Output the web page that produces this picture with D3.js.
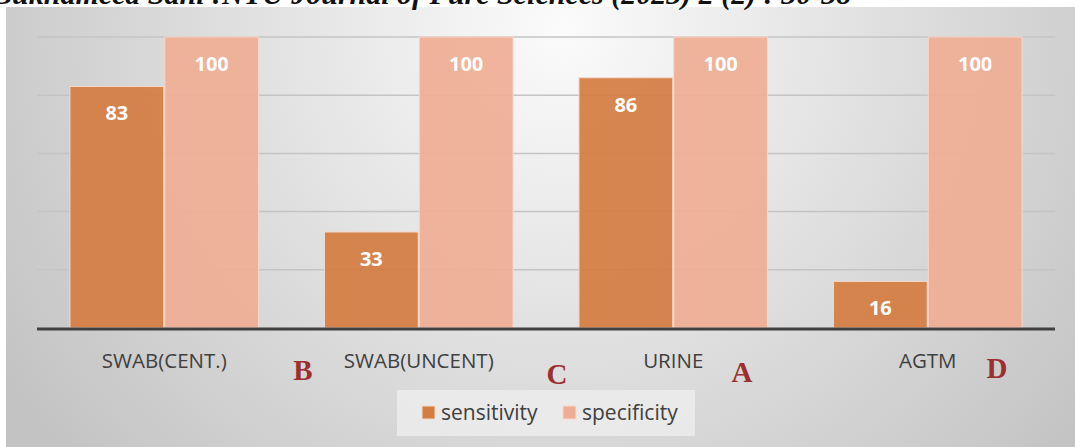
<!DOCTYPE html>
<html>
<head>
<meta charset="utf-8">
<script src="https://cdn.jsdelivr.net/npm/d3@7"></script>
<style>
  body { margin: 0; background: #fff; }
  svg { display: block; }
</style>
</head>
<body>
<div id="chart"></div>
<script>
// data
const categories = ["SWAB(CENT.)", "SWAB(UNCENT)", "URINE", "AGTM"];
const sensitivity = [83, 33, 86, 16];
const specificity = [100, 100, 100, 100];
const seriesNames = ["sensitivity", "specificity"];
const panelLetters = ["B", "C", "A", "D"];
const yTicks = [0, 20, 40, 60, 80, 100];
const headerText = "Bukhameed Sani :NTU Journal of Pure Sciences (2023) 2 (2) : 30-38";

const width = 1075;
const height = 447;
const marginTop = 37;
const marginRight = 20;
const marginBottom = 119;
const marginLeft = 37;
const colors = ["#d47d43", "#efad95"];

const svg = d3.select("#chart")
    .append("svg")
    .attr("width", width)
    .attr("height", height)
    .attr("viewBox", [0, 0, width, height]);

// chart area background, lighter near the top middle
const defs = svg.append("defs");
const grad = defs.append("radialGradient")
    .attr("id", "bg")
    .attr("cx", "0.52").attr("cy", "0.05")
    .attr("r", "0.62")
    .attr("gradientTransform", "translate(0.52,0.05) scale(1,2.4) translate(-0.52,-0.05)");
grad.append("stop").attr("offset", "0").attr("stop-color", "#fbfbfb");
grad.append("stop").attr("offset", "1").attr("stop-color", "#c3c3c3");

svg.append("rect")
    .attr("x", 6).attr("y", 7)
    .attr("width", width - 6).attr("height", height - 7)
    .attr("fill", "url(#bg)");

// header line of the page above the figure, only its lower part shows
svg.append("text")
    .attr("x", -8).attr("y", 4)
    .attr("font-family", "Liberation Serif, serif")
    .attr("font-style", "italic")
    .attr("font-weight", "bold")
    .attr("font-size", 30)
    .attr("fill", "#111")
    .text(headerText);

const x = d3.scaleBand(categories, [marginLeft, width - marginRight]).paddingInner(0.255).paddingOuter(0.1275);
const xs = d3.scaleBand(seriesNames, [0, x.bandwidth()]);
const y = d3.scaleLinear([0, 100], [height - marginBottom, marginTop]);

// gridlines
svg.append("g")
    .selectAll("line")
    .data(yTicks.filter(d => d > 0))
    .join("line")
    .attr("x1", marginLeft)
    .attr("x2", width - marginRight)
    .attr("y1", d => y(d))
    .attr("y2", d => y(d))
    .attr("stroke", "#c4c4c4")
    .attr("stroke-width", 1.5);

const rows = categories.map((c, i) => ({
    cat: c,
    vals: [sensitivity[i], specificity[i]]
}));

const groups = svg.append("g")
    .selectAll("g")
    .data(rows)
    .join("g")
    .attr("transform", d => `translate(${x(d.cat)},0)`);

groups.selectAll("rect")
    .data(d => d.vals.map((v, j) => ({ key: seriesNames[j], v, j })))
    .join("rect")
    .attr("x", d => xs(d.key) + 0.5)
    .attr("y", d => y(d.v))
    .attr("width", xs.bandwidth() - 1)
    .attr("height", d => y(0) - y(d.v))
    .attr("fill", d => colors[d.j])
    .attr("fill-opacity", 0.93)
    .attr("stroke", "#f6d9cc")
    .attr("stroke-width", 1);

groups.selectAll("text.val")
    .data(d => d.vals.map((v, j) => ({ key: seriesNames[j], v, j })))
    .join("text")
    .attr("class", "val")
    .attr("x", d => xs(d.key) + xs.bandwidth() / 2)
    .attr("y", d => y(d.v) + 34)
    .attr("text-anchor", "middle")
    .attr("font-family", "Open Sans, sans-serif")
    .attr("font-weight", "bold")
    .attr("font-size", 20)
    .attr("fill", "#fff")
    .text(d => d.v);

// baseline
svg.append("line")
    .attr("x1", marginLeft)
    .attr("x2", width - marginRight)
    .attr("y1", y(0) + 1)
    .attr("y2", y(0) + 1)
    .attr("stroke", "#404040")
    .attr("stroke-width", 3);

// category labels
svg.append("g")
    .attr("transform", `translate(0,${y(0)})`)
    .call(d3.axisBottom(x).tickSize(0).tickPadding(0))
    .call(g => g.select(".domain").remove())
    .call(g => g.selectAll("text")
        .attr("dy", 0)
        .attr("y", 40)
        .attr("font-family", "Open Sans, sans-serif")
        .attr("font-size", 20.5)
        .attr("fill", "#404040"));

// panel letters placed between the category labels
const letterX = [303, 557, 742, 997];
const letterY = [380, 384, 382, 378];
svg.append("g")
    .selectAll("text")
    .data(panelLetters)
    .join("text")
    .attr("x", (d, i) => letterX[i])
    .attr("y", (d, i) => letterY[i])
    .attr("text-anchor", "middle")
    .attr("font-family", "Liberation Serif, serif")
    .attr("font-weight", "bold")
    .attr("font-size", 29)
    .attr("fill", "#9c2f2f")
    .text(d => d);

// legend
const legend = svg.append("g");
legend.append("rect")
    .attr("x", 397).attr("y", 390)
    .attr("width", 298).attr("height", 46)
    .attr("fill", "#ececec")
    .attr("fill-opacity", 0.85);

const legX = [422, 563];
const items = legend.selectAll("g")
    .data(seriesNames)
    .join("g")
    .attr("transform", (d, i) => `translate(${legX[i]},406)`);
items.append("rect")
    .attr("width", 13).attr("height", 13)
    .attr("fill", (d, i) => colors[i])
    .attr("stroke", "#f6d9cc");
items.append("text")
    .attr("x", 19).attr("y", 14)
    .attr("font-family", "Open Sans, sans-serif")
    .attr("font-size", 21)
    .attr("fill", "#404040")
    .text(d => d);
</script>
</body>
</html>
